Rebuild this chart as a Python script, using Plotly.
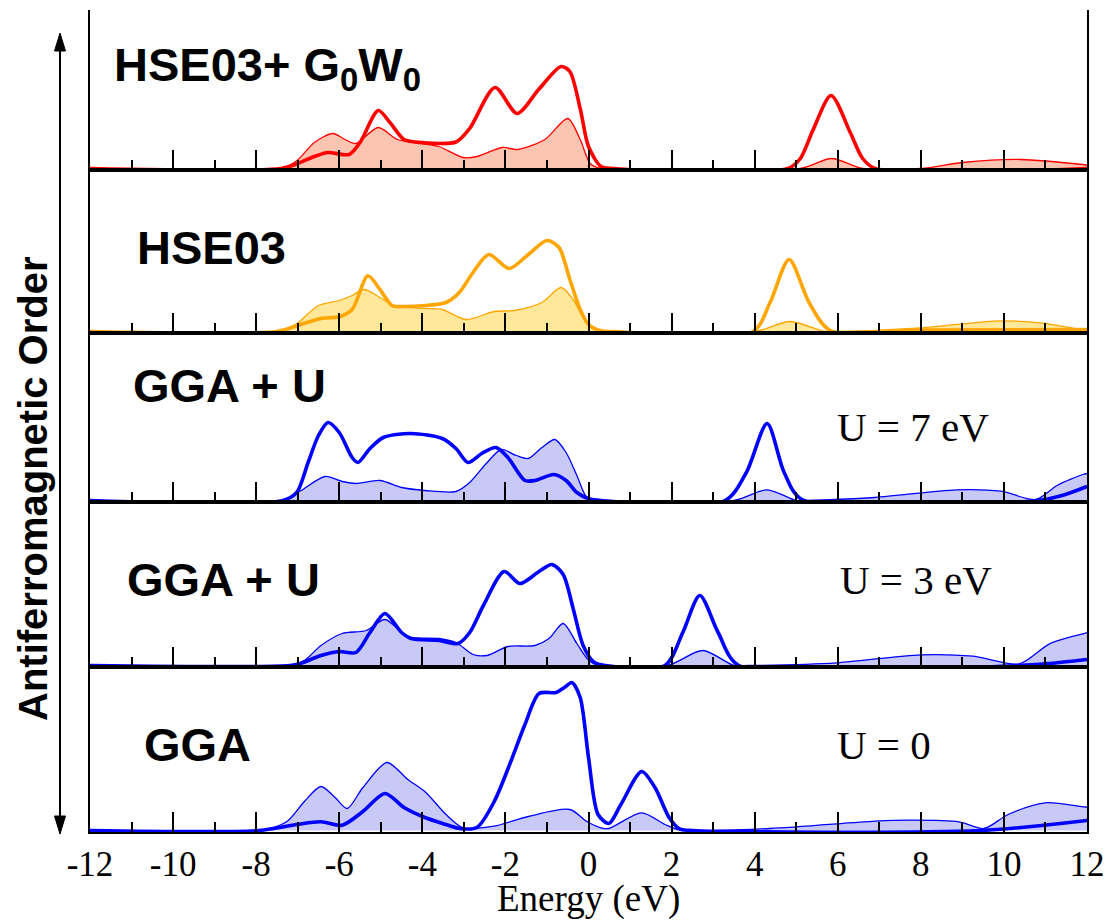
import plotly.graph_objects as go

# ---------------- data (DOS, arbitrary units) ----------------
tick_values = [-12, -10, -8, -6, -4, -2, 0, 2, 4, 6, 8, 10, 12]
tick_labels = ["-12", "-10", "-8", "-6", "-4", "-2", "0", "2", "4", "6", "8", "10", "12"]

panel_names = ["HSE03+ G<sub>0</sub>W<sub>0</sub>", "HSE03", "GGA + U", "GGA + U", "GGA"]
u_labels = ["", "", "U = 7 eV", "U = 3 eV", "U = 0"]

# HSE03 + G0W0
g0w0_thick_e = [-12, -7.4, -7.0, -6.6, -6.27, -5.76, -5.5, -5.06, -4.78, -4.44, -4.03, -3.19, -2.86,
                -2.25, -1.72, -1.2, -0.66, -0.45, -0.2, 0.0, 0.3, 0.6, 4.8, 5.1, 5.4, 5.84, 6.3, 6.6, 6.9, 12]
g0w0_thick_v = [0, 0, 5, 12, 16, 14, 26, 58, 46, 29, 26, 26.5, 40,
                81, 55, 79, 102, 97, 60, 22, 2, 0, 0, 10, 38, 73, 36, 10, 0, 0]
g0w0_thin_e = [-12, -7.4, -7.0, -6.6, -6.15, -5.86, -5.6, -5.06, -4.6, -4.03, -3.6, -3.02, -2.68, -2.08,
               -1.7, -1.05, -0.5, -0.2, 0.04, 0.3, 5.1, 5.85, 6.6, 8.0, 9.0, 10.4, 12]
g0w0_thin_v = [0, 0, 8.6, 26, 35, 29, 25, 41, 29, 25, 22, 11, 12, 21,
               19, 29, 50, 29, 5, 0, 0, 10, 0, 0, 6, 9, 3.5]

# HSE03
hse_thick_e = [-12, -7.5, -7.02, -6.44, -6.0, -5.69, -5.31, -5.02, -4.73, -4.44, -3.94, -3.43, -3.11, -2.78,
               -2.4, -1.91, -1.45, -1.0, -0.71, -0.45, -0.2, 0.0, 0.3, 0.6, 3.96, 4.37, 4.83, 5.31, 5.82, 8.0, 12]
hse_thick_v = [0, 0, 5.7, 13, 14.7, 22, 55.7, 42, 26, 25, 26, 29, 39, 59,
               77, 63, 77, 91, 84, 52, 22, 7, 0.7, 0, 0, 29, 72, 29, 1, 1.5, 2]
hse_thin_e = [-12, -7.5, -7.02, -6.5, -6.0, -5.69, -5.4, -5.02, -4.68, -3.94, -3.52, -2.95, -2.27, -1.79,
              -1.12, -0.66, -0.37, -0.04, 0.3, 4.0, 4.85, 5.7, 5.98, 8.0, 9.93, 10.94, 11.9, 12]
hse_thin_v = [0, 0, 8, 26, 31, 36, 42, 34, 26, 23, 22, 12, 20, 21,
              29, 44, 32, 8, 0, 0, 10, 0, 0, 3.7, 10.7, 8.3, 1.7, 1.5]

# GGA + U, U = 7 eV
u7_thick_e = [-12, -7.35, -7.02, -6.75, -6.5, -6.27, -6.0, -5.69, -5.55, -5.26, -4.94, -4.28, -3.52, -3.19,
              -2.9, -2.57, -2.23, -1.94, -1.53, -1.29, -0.83, -0.54, -0.28, 0.01, 0.3, 3.29, 3.8, 4.3, 4.71,
              5.14, 10.8, 11.4, 12]
u7_thick_v = [0, 0, 8.3, 38, 65, 78, 68, 43, 38, 52, 63, 67, 62, 52,
              38, 47, 53, 43, 20, 20, 26, 20, 8, 1.7, 0, 0, 28, 77, 28,
              1, 0, 5, 14]
u7_thin_e = [-12, -7.35, -6.92, -6.34, -5.93, -5.6, -5.02, -4.5, -3.94, -3.19, -2.86, -2.44, -2.1, -1.74,
             -1.45, -1.12, -0.81, -0.54, -0.28, -0.04, 0.2, 3.5, 4.3, 5.0, 5.2, 6.9, 8.85, 9.93, 10.77,
             11.28, 11.9, 12]
u7_thin_v = [0, 0, 10, 24, 19, 17, 20, 13, 10, 9, 18, 38, 51, 45,
             42, 53, 61, 48, 25, 3, 0, 0, 10.7, 0, 0, 3, 10.7, 9.3, 1,
             15, 26, 27]

# GGA + U, U = 3 eV
u3_thick_e = [-12, -7.19, -6.92, -6.44, -6.0, -5.6, -5.26, -4.9, -4.5, -4.27, -3.6, -3.14, -2.86, -2.53,
              -2.03, -1.65, -1.19, -0.88, -0.61, -0.37, -0.13, 0.13, 0.4, 1.84, 2.27, 2.68, 3.12, 3.62,
              10.37, 11.1, 12]
u3_thick_v = [0, 0, 2.3, 10, 14, 13, 33, 52, 33, 27, 25, 22, 33, 60,
              94, 82, 94, 101, 91, 57, 20, 3.3, 0, 0, 33, 70, 33, 0,
              0, 2, 6]
u3_thin_e = [-12, -7.19, -6.84, -6.44, -5.93, -5.35, -4.9, -4.35, -3.6, -3.19, -2.78, -2.44, -1.94, -1.29,
             -0.95, -0.61, -0.28, 0.01, 0.3, 1.9, 2.75, 3.5, 3.86, 5.98, 8.0, 9.26, 10.37, 11.1, 11.9, 12]
u3_thin_v = [0, 0, 5, 20, 32, 35, 46, 29, 27, 23, 11, 10, 19, 20,
             27, 42, 22, 5, 0, 0, 15, 0, 0, 2.7, 10.7, 9.3, 1.7, 21.7, 31.7, 33]

# GGA, U = 0
gga_thick_e = [-12, -7.93, -7.02, -6.44, -5.93, -5.43, -4.9, -4.44, -3.94, -3.43, -3.11, -2.68, -2.27, -1.87,
               -1.53, -1.19, -0.78, -0.58, -0.4, -0.2, 0.0, 0.23, 0.49, 0.78, 1.28, 1.6, 1.94, 2.19, 2.5,
               9.43, 12]
gga_thick_v = [0, 0, 6, 8.7, 5.3, 19, 37, 23, 13, 6, 2, 3.3, 29, 69,
               106, 137, 138, 143, 148, 133, 73, 16, 7, 26, 59, 43, 13, 1.7, 0,
               0, 10]
gga_thin_e = [-12, -7.9, -7.25, -6.84, -6.44, -6.1, -5.81, -5.43, -4.85, -4.35, -3.94, -3.43, -3.02, -2.27,
              -1.45, -0.45, -0.04, 0.3, 0.49, 1.28, 1.84, 2.19, 4.37, 6.9, 7.74, 8.92, 9.52, 10.1, 10.99,
              11.9, 12]
gga_thin_v = [0, 0, 9.3, 29, 44, 33, 22, 43, 68, 51, 39, 16, 2.7, 4.3,
              14, 21, 9, 2.7, 2, 17.7, 6, 0.7, 2, 9.3, 10.3, 8.7, 2, 16, 27.7,
              23.7, 23.5]

series = [
    (g0w0_thin_e, g0w0_thin_v, g0w0_thick_e, g0w0_thick_v),
    (hse_thin_e, hse_thin_v, hse_thick_e, hse_thick_v),
    (u7_thin_e, u7_thin_v, u7_thick_e, u7_thick_v),
    (u3_thin_e, u3_thin_v, u3_thick_e, u3_thick_v),
    (gga_thin_e, gga_thin_v, gga_thick_e, gga_thick_v),
]

# ---------------- styling / layout ----------------
W, H = 1109, 922
PL, PR, PT, PB = 90, 1087, 10, 832
panel_px = [(10, 170), (170, 333), (333, 502), (502, 667), (667, 832)]
line_colors = ["#FF0000", "#FFA500", "#0000FF", "#0000FF", "#0000FF"]
fill_colors = ["#FBC5B2", "#FFE899", "#C9C9F7", "#C9C9F7", "#C9C9F7"]


def pxx(px):
    return (px - PL) / (PR - PL)


def pxy(py):
    return (PB - py) / (PB - PT)


fig = go.Figure()
layout = dict(
    width=W, height=H,
    margin=dict(l=PL, r=W - PR, t=PT, b=H - PB, pad=0, autoexpand=False),
    paper_bgcolor="white", plot_bgcolor="white",
    showlegend=False,
)

for i, (top, bot) in enumerate(panel_px):
    k = i + 1
    xa = "x" if k == 1 else f"x{k}"
    ya = "y" if k == 1 else f"y{k}"
    h = bot - top
    layout["xaxis" if k == 1 else f"xaxis{k}"] = dict(
        domain=[0, 1], anchor=ya, range=[-12, 12], automargin=False,
        showgrid=False, zeroline=False,
        showline=True, linecolor="black", linewidth=2, mirror=(k != 1),
        ticks="inside", ticklen=20, tickwidth=1.6, tickcolor="black",
        tickmode="array", tickvals=tick_values, ticktext=tick_labels,
        showticklabels=(k == 5),
        tickfont=dict(family="Liberation Serif", size=35, color="black"),
        minor=dict(tickmode="linear", tick0=-12, dtick=1, ticks="inside",
                   ticklen=10, tickwidth=1.6, tickcolor="black"),
        fixedrange=True,
    )
    layout["yaxis" if k == 1 else f"yaxis{k}"] = dict(
        domain=[pxy(bot), pxy(top)], anchor=xa, range=[-1.5, h - 1.5], automargin=False,
        showgrid=False, zeroline=False, showticklabels=False, ticks="",
        showline=True, linecolor="black", linewidth=2, mirror=True,
        fixedrange=True,
    )
    te, tv, ke, kv = series[i]
    fig.add_trace(go.Scatter(
        x=te, y=tv, mode="lines", xaxis=xa, yaxis=ya,
        line=dict(color=line_colors[i], width=1.3, shape="spline", smoothing=0.8),
        fill="tozeroy", fillcolor=fill_colors[i], hoverinfo="skip"))
    fig.add_trace(go.Scatter(
        x=ke, y=kv, mode="lines", xaxis=xa, yaxis=ya,
        line=dict(color=line_colors[i], width=3.6, shape="spline", smoothing=0.8),
        hoverinfo="skip"))

fig.update_layout(**layout)

# panel labels
label_pos = [(112, 68), (135, 248), (131, 385), (125, 580), (142, 744)]
for i, (lx, ly) in enumerate(label_pos):
    fig.add_annotation(
        x=pxx(lx), y=pxy(ly), xref="paper", yref="paper", xanchor="left", yanchor="middle",
        text=f"<b>{panel_names[i]}</b>", showarrow=False,
        font=dict(family="Liberation Sans", size=47, color="black"))

u_pos = [None, None, (835, 427), (838, 580), (835, 745)]
for i, p in enumerate(u_pos):
    if p is None:
        continue
    fig.add_annotation(
        x=pxx(p[0]), y=pxy(p[1]), xref="paper", yref="paper", xanchor="left", yanchor="middle",
        text=u_labels[i], showarrow=False,
        font=dict(family="Liberation Serif", size=41, color="black"))

# x axis title
fig.add_annotation(
    x=pxx(588), y=pxy(899), xref="paper", yref="paper", xanchor="center", yanchor="middle",
    text="Energy (eV)", showarrow=False,
    font=dict(family="Liberation Serif", size=37, color="black"))

# vertical side title
fig.add_annotation(
    x=pxx(33), y=pxy(489), xref="paper", yref="paper", xanchor="center", yanchor="middle",
    text="<b>Antiferromagnetic Order</b>", textangle=-90, showarrow=False,
    font=dict(family="Liberation Sans", size=40, color="black"))

# double arrow
ax_x = 60
fig.add_shape(type="line", xref="paper", yref="paper",
              x0=pxx(ax_x), x1=pxx(ax_x), y0=pxy(45), y1=pxy(822),
              line=dict(color="black", width=2))
for tip, base in [(33, 51), (834, 816)]:
    path = (f"M {pxx(ax_x)},{pxy(tip)} L {pxx(ax_x - 5.5)},{pxy(base)} "
            f"L {pxx(ax_x + 5.5)},{pxy(base)} Z")
    fig.add_shape(type="path", xref="paper", yref="paper", path=path,
                  fillcolor="black", line=dict(color="black", width=1))

fig.write_html(
    "out.html",
    config={"displayModeBar": False},
    post_script="document.body.style.margin='0';document.body.style.overflow='hidden';",
)
